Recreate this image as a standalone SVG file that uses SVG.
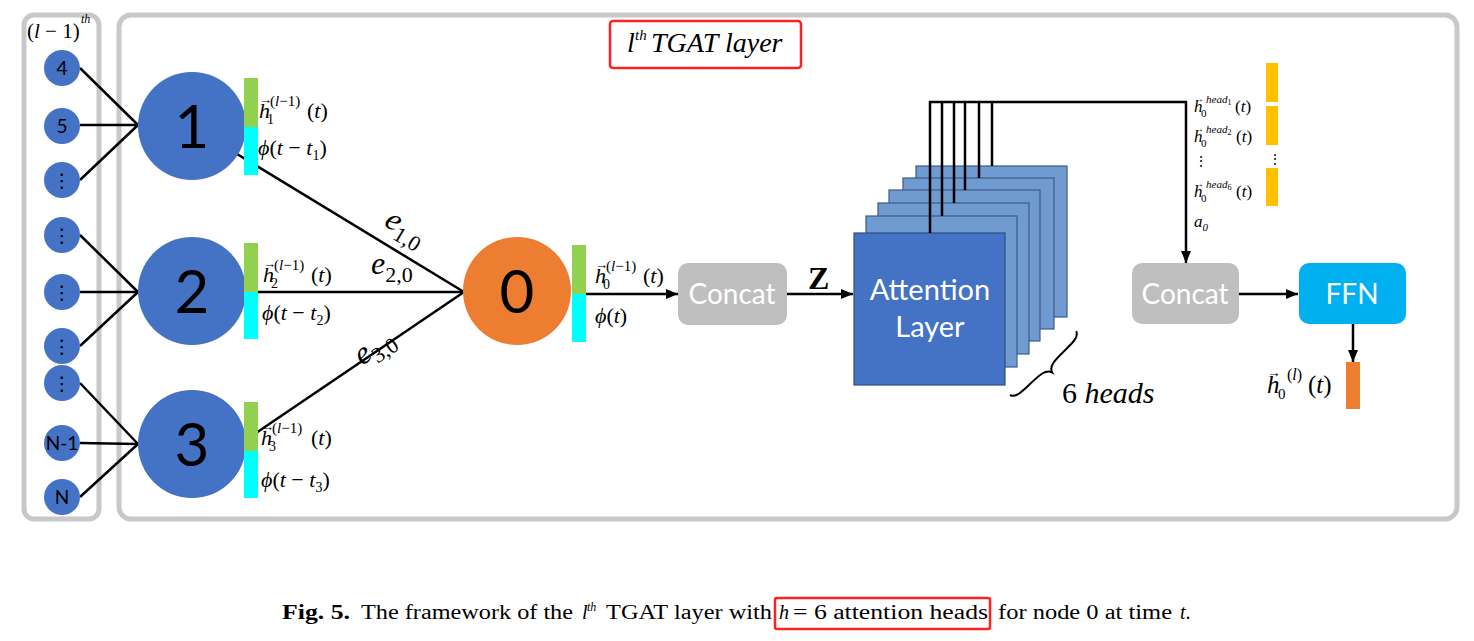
<svg xmlns="http://www.w3.org/2000/svg" width="1474" height="641" viewBox="0 0 1474 641">
<style>
.frame{fill:#fff;stroke:#c8c8c8;stroke-width:5}
.sn{fill:#4472c4}
.bn{fill:#4472c4}
.sans{font-family:"Lato","Open Sans","DejaVu Sans",sans-serif}
.snt{font-family:"Lato","Open Sans","DejaVu Sans",sans-serif;font-size:19px;fill:#000;text-anchor:middle}
.bnt{font-family:"Lato","Open Sans","DejaVu Sans",sans-serif;font-size:60px;fill:#000;text-anchor:middle}
.m{font-family:"Liberation Serif","DejaVu Serif",serif;fill:#000}
.i{font-style:italic}
.g{fill:#92d050}
.c{fill:#00ffff}
.y{fill:#ffc000}
.ln{stroke:#000;stroke-width:2.5;fill:none}
.ar{stroke:#000;stroke-width:2.5;fill:none;marker-end:url(#arr)}
.box{fill:#bfbfbf}
.bt{font-family:"Lato","Open Sans","DejaVu Sans",sans-serif;font-size:28px;fill:#fff;text-anchor:middle}
.layer{fill:#6f9bd0;stroke:#3c5a8a;stroke-width:1.2}
.cap{font-family:"Liberation Serif","DejaVu Serif",serif;fill:#000}
</style>
<defs>
<marker id="arr" viewBox="0 0 12 10" markerWidth="12" markerHeight="10" refX="12" refY="5" orient="auto" markerUnits="userSpaceOnUse">
<path d="M0,0 L12,5 L0,10 z" fill="#000"/>
</marker>
</defs>

<g id="frames">
<rect class="frame" x="24" y="15" width="75" height="504" rx="10"/>
<rect class="frame" x="119" y="15" width="1338" height="504" rx="12"/>
</g>

<g id="connectors">
<line class="ln" x1="80" y1="68" x2="138" y2="125"/>
<line class="ln" x1="80" y1="125" x2="138" y2="125"/>
<line class="ln" x1="80" y1="180" x2="138" y2="125"/>
<line class="ln" x1="80" y1="235" x2="138" y2="292"/>
<line class="ln" x1="80" y1="292" x2="138" y2="292"/>
<line class="ln" x1="80" y1="346" x2="138" y2="292"/>
<line class="ln" x1="80" y1="383" x2="138" y2="444"/>
<line class="ln" x1="80" y1="443" x2="138" y2="444"/>
<line class="ln" x1="80" y1="497" x2="138" y2="444"/>
<line class="ln" x1="237" y1="154" x2="464" y2="292"/>
<line class="ln" x1="258" y1="292" x2="464" y2="292"/>
<line class="ln" x1="256" y1="433" x2="464" y2="292"/>
</g>

<g id="edge-labels">
<text class="m i" x="383" y="225" font-size="32" transform="rotate(31 383 225)">e<tspan font-style="normal" font-size="22" dy="7">1,0</tspan></text>
<text class="m i" x="371" y="274" font-size="32">e<tspan font-style="normal" font-size="22" dy="8">2,0</tspan></text>
<text class="m i" x="362" y="366" font-size="32" transform="rotate(-34 362 366)">e<tspan font-style="normal" font-size="22" dy="7">3,0</tspan></text>
</g>

<g id="prev-label">
<text class="m" font-size="21" y="38"><tspan x="27">(<tspan class="i">l</tspan> − 1)</tspan><tspan x="81" y="23" font-size="12" class="i">th</tspan></text>
</g>

<g id="small-nodes">
<g id="n4"><circle class="sn" cx="62" cy="68" r="18"/><text class="snt" x="62" y="75">4</text></g>
<g id="n5"><circle class="sn" cx="62" cy="126" r="18"/><text class="snt" x="62" y="133">5</text></g>
<g id="nd1"><circle class="sn" cx="62" cy="180" r="18"/><text class="snt" x="62" y="187">⋮</text></g>
<g id="nd2"><circle class="sn" cx="62" cy="235" r="18"/><text class="snt" x="62" y="242">⋮</text></g>
<g id="nd3"><circle class="sn" cx="62" cy="292" r="18"/><text class="snt" x="62" y="299">⋮</text></g>
<g id="nd4"><circle class="sn" cx="62" cy="346" r="18"/><text class="snt" x="62" y="353">⋮</text></g>
<g id="nd5"><circle class="sn" cx="62" cy="383" r="18"/><text class="snt" x="62" y="390">⋮</text></g>
<g id="nN1"><circle class="sn" cx="62" cy="443" r="18"/><text class="snt" x="62" y="450">N-1</text></g>
<g id="nN"><circle class="sn" cx="62" cy="497" r="18"/><text class="snt" x="62" y="504">N</text></g>
</g>

<g id="node-1">
<circle class="bn" cx="192" cy="126" r="54"/>
<text class="bnt" x="192" y="148">1</text>
<rect class="g" x="244" y="78" width="14" height="49"/>
<rect class="c" x="244" y="127" width="14" height="48"/>
<text class="m" font-size="22" y="118"><tspan x="259" class="i">h</tspan><tspan x="259" y="104" font-size="13">→</tspan><tspan x="267" y="124" font-size="14">1</tspan><tspan x="270" y="106" font-size="15">(<tspan class="i">l</tspan>−1)</tspan><tspan x="307" y="118">(<tspan class="i">t</tspan>)</tspan></text>
<text class="m" font-size="22" x="258" y="155"><tspan class="i">ϕ</tspan>(<tspan class="i">t</tspan> − <tspan class="i">t</tspan><tspan font-size="14" dy="5">1</tspan><tspan dy="-5">)</tspan></text>
</g>

<g id="node-2">
<circle class="bn" cx="192" cy="291" r="54"/>
<text class="bnt" x="192" y="313">2</text>
<rect class="g" x="244" y="243" width="14" height="49"/>
<rect class="c" x="244" y="292" width="14" height="47"/>
<text class="m" font-size="22" y="282"><tspan x="263" class="i">h</tspan><tspan x="263" y="268" font-size="13">→</tspan><tspan x="271" y="288" font-size="14">2</tspan><tspan x="274" y="270" font-size="15">(<tspan class="i">l</tspan>−1)</tspan><tspan x="311" y="282">(<tspan class="i">t</tspan>)</tspan></text>
<text class="m" font-size="22" x="262" y="320"><tspan class="i">ϕ</tspan>(<tspan class="i">t</tspan> − <tspan class="i">t</tspan><tspan font-size="14" dy="5">2</tspan><tspan dy="-5">)</tspan></text>
</g>

<g id="node-3">
<circle class="bn" cx="192" cy="444" r="54"/>
<text class="bnt" x="192" y="466">3</text>
<rect class="g" x="244" y="402" width="14" height="49"/>
<rect class="c" x="244" y="451" width="14" height="47"/>
<text class="m" font-size="22" y="445"><tspan x="261" class="i">h</tspan><tspan x="261" y="431" font-size="13">→</tspan><tspan x="269" y="451" font-size="14">3</tspan><tspan x="272" y="433" font-size="15">(<tspan class="i">l</tspan>−1)</tspan><tspan x="311" y="445">(<tspan class="i">t</tspan>)</tspan></text>
<text class="m" font-size="22" x="261" y="487"><tspan class="i">ϕ</tspan>(<tspan class="i">t</tspan> − <tspan class="i">t</tspan><tspan font-size="14" dy="5">3</tspan><tspan dy="-5">)</tspan></text>
</g>

<g id="node-0">
<circle cx="517" cy="291" r="54" fill="#ed7d31"/>
<text class="bnt" x="517" y="313">0</text>
<rect class="g" x="572" y="245" width="14" height="49"/>
<rect class="c" x="572" y="294" width="14" height="48"/>
<text class="m" font-size="22" y="283"><tspan x="595" class="i">h</tspan><tspan x="595" y="269" font-size="13">→</tspan><tspan x="603" y="289" font-size="14">0</tspan><tspan x="606" y="271" font-size="15">(<tspan class="i">l</tspan>−1)</tspan><tspan x="643" y="283">(<tspan class="i">t</tspan>)</tspan></text>
<text class="m" font-size="22" x="595" y="323"><tspan class="i">ϕ</tspan>(<tspan class="i">t</tspan>)</text>
</g>

<g id="concat-1">
<rect class="box" x="678" y="263" width="109" height="62" rx="10"/>
<text class="bt" x="732" y="304">Concat</text>
</g>

<g id="attention">
<rect class="layer" x="916" y="166" width="151" height="151"/>
<rect class="layer" x="903" y="178" width="151" height="151"/>
<rect class="layer" x="889" y="190" width="151" height="151"/>
<rect class="layer" x="878" y="203" width="151" height="151"/>
<rect class="layer" x="866" y="216" width="151" height="151"/>
<line class="ln" x1="992" y1="102" x2="992" y2="166"/>
<line class="ln" x1="979" y1="102" x2="979" y2="178"/>
<line class="ln" x1="965" y1="102" x2="965" y2="190"/>
<line class="ln" x1="954" y1="102" x2="954" y2="203"/>
<line class="ln" x1="942" y1="102" x2="942" y2="216"/>
<rect x="854" y="233" width="151" height="152" fill="#4472c4" stroke="#2f4f80" stroke-width="1.2"/>
<text class="sans" x="930" y="300" font-size="29" fill="#fff" text-anchor="middle">Attention</text>
<text class="sans" x="930" y="337" font-size="29" fill="#fff" text-anchor="middle">Layer</text>
</g>

<g id="heads-label">
<path transform="translate(1010,395) rotate(-44)" d="M0,0 C2,6 10,6 22,6 C34,6 44,6 46,13 C48,6 58,6 70,6 C82,6 90,6 92,0" fill="none" stroke="#000" stroke-width="2"/>
<text class="m" x="1062" y="403" font-size="30">6 <tspan class="i">heads</tspan></text>
</g>

<g id="flow">
<line class="ar" x1="586" y1="294" x2="678" y2="294"/>
<line class="ar" x1="787" y1="294" x2="853" y2="294"/>
<text class="m" x="808" y="289" font-size="32" font-weight="bold">Z</text>
<path class="ar" d="M930,233 V102 H1186 V263"/>
<line class="ar" x1="1239" y1="294" x2="1298" y2="294"/>
<line class="ar" x1="1353" y1="324" x2="1353" y2="362"/>
</g>

<g id="head-outputs">
<text class="m" font-size="17" y="112"><tspan x="1194" class="i">h</tspan><tspan x="1194" y="102" font-size="10">→</tspan><tspan x="1201" y="117" font-size="11">0</tspan><tspan x="1206" y="103" font-size="11" class="i">head</tspan><tspan font-size="8" y="105">1</tspan><tspan x="1235" y="112">(<tspan class="i">t</tspan>)</tspan></text>
<text class="m" font-size="17" y="142"><tspan x="1194" class="i">h</tspan><tspan x="1194" y="132" font-size="10">→</tspan><tspan x="1201" y="147" font-size="11">0</tspan><tspan x="1206" y="133" font-size="11" class="i">head</tspan><tspan font-size="8" y="135">2</tspan><tspan x="1236" y="142">(<tspan class="i">t</tspan>)</tspan></text>
<text class="m" font-size="14" x="1194" y="166">⋮</text>
<text class="m" font-size="17" y="197"><tspan x="1194" class="i">h</tspan><tspan x="1194" y="187" font-size="10">→</tspan><tspan x="1201" y="202" font-size="11">0</tspan><tspan x="1206" y="188" font-size="11" class="i">head</tspan><tspan font-size="8" y="190">6</tspan><tspan x="1236" y="197">(<tspan class="i">t</tspan>)</tspan></text>
<text class="m i" font-size="17" x="1194" y="227">a<tspan font-size="11" dy="4">0</tspan></text>
<rect class="y" x="1266" y="63" width="12" height="39"/>
<rect class="y" x="1266" y="106" width="12" height="39"/>
<text class="m" font-size="14" x="1268" y="164">⋮</text>
<rect class="y" x="1266" y="168" width="12" height="38"/>
</g>

<g id="concat-2">
<rect class="box" x="1132" y="263" width="107" height="61" rx="10"/>
<text class="bt" x="1185" y="304">Concat</text>
</g>

<g id="ffn">
<rect x="1299" y="263" width="107" height="61" rx="10" fill="#00b0f0"/>
<text class="bt" x="1352" y="304">FFN</text>
</g>

<g id="output">
<rect x="1346" y="362" width="14" height="47" fill="#ed7d31"/>
<text class="m" font-size="25" y="393" fill="#ff0000"><tspan x="1267" class="i">h</tspan><tspan x="1267" y="377" font-size="14">→</tspan><tspan x="1278" y="399" font-size="15">0</tspan><tspan x="1287" y="380" font-size="16">(<tspan class="i">l</tspan>)</tspan><tspan x="1308" y="393">(<tspan class="i">t</tspan>)</tspan></text>
</g>

<g id="title">
<rect x="610" y="21" width="191" height="47" rx="3" fill="none" stroke="#ff2020" stroke-width="2.5"/>
<text class="m i" font-size="28" y="52"><tspan x="627">l</tspan><tspan x="635" y="40" font-size="15">th</tspan><tspan x="651" y="52">TGAT layer</tspan></text>
</g>

<g id="caption">
<text class="cap" font-size="20" x="282" y="619" font-weight="bold" textLength="68" lengthAdjust="spacingAndGlyphs">Fig. 5.</text>
<text class="cap" font-size="20" x="361" y="619" textLength="212" lengthAdjust="spacingAndGlyphs">The framework of the</text>
<text class="cap i" font-size="20" y="619"><tspan x="582">l</tspan><tspan x="587" y="611" font-size="12">th</tspan></text>
<text class="cap" font-size="20" x="606" y="619" textLength="166" lengthAdjust="spacingAndGlyphs">TGAT layer with</text>
<text class="cap i" font-size="20" x="779" y="619">h</text>
<text class="cap" font-size="20" x="793" y="619" textLength="195" lengthAdjust="spacingAndGlyphs">= 6 attention heads</text>
<text class="cap" font-size="20" x="998" y="619" textLength="174" lengthAdjust="spacingAndGlyphs">for node 0 at time</text>
<text class="cap" font-size="20" x="1180" y="619"><tspan class="i">t</tspan>.</text>
<rect x="775" y="598" width="215" height="31" rx="2" fill="none" stroke="#ff2020" stroke-width="2.5"/>
</g>
</svg>
